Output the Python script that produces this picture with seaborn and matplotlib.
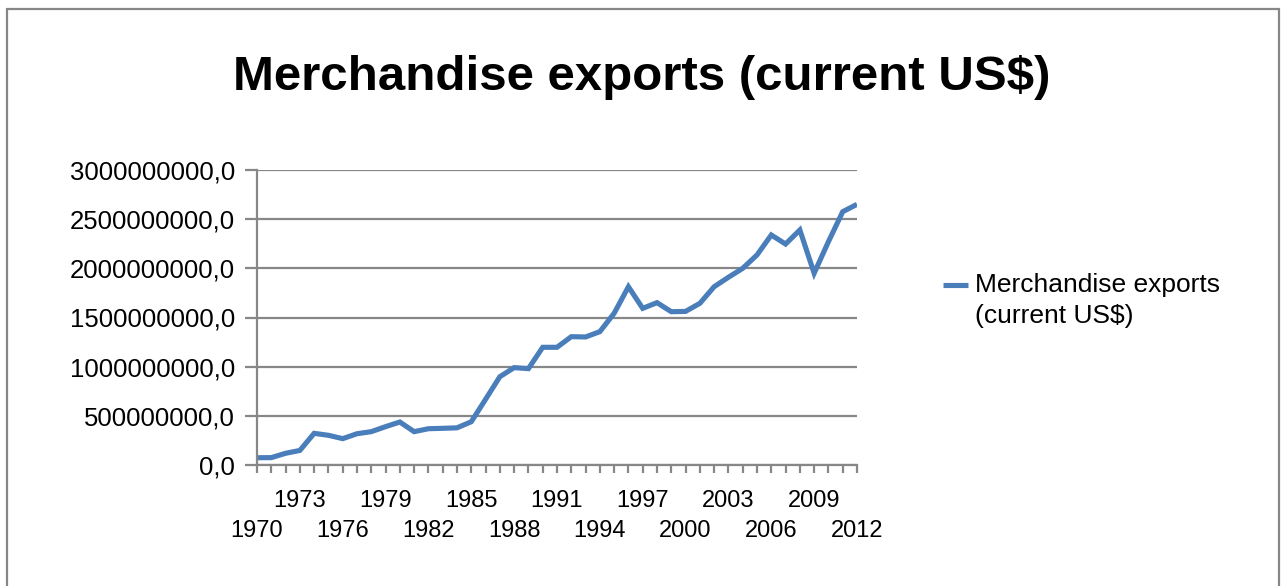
import matplotlib
matplotlib.use("Agg")
import matplotlib.pyplot as plt
from matplotlib.ticker import FuncFormatter, FixedLocator
from matplotlib.lines import Line2D
import seaborn as sns
import pandas as pd

# ---- data ----
years = list(range(1970, 2013))
exports = [
    74e6, 75e6, 119e6, 148e6, 322e6, 302e6, 268e6, 318e6, 339e6, 390e6,
    437e6, 339e6, 369e6, 373e6, 378e6, 440e6, 668e6, 898e6, 990e6, 980e6,
    1197e6, 1197e6, 1305e6, 1302e6, 1356e6, 1543e6, 1813e6, 1593e6, 1651e6, 1559e6,
    1562e6, 1644e6, 1813e6, 1909e6, 2000e6, 2136e6, 2339e6, 2247e6, 2390e6, 1950e6,
    2271e6, 2576e6, 2651e6,
]
legend_label = "Merchandise exports\n(current US$)"
title = "Merchandise exports (current US$)"
y_ticks = [0, 5e8, 1e9, 1.5e9, 2e9, 2.5e9, 3e9]

df = pd.DataFrame({"year": years, "value": exports})

# ---- style ----
sns.set_style("white")
plt.rcParams["font.family"] = ["Liberation Sans", "DejaVu Sans"]
plt.rcParams["text.color"] = "black"
plt.rcParams["xtick.color"] = "black"
plt.rcParams["ytick.color"] = "black"

GRAY = "#878787"
BLUE = "#4a7ebb"

W, H = 1282, 586
fig = plt.figure(figsize=(W / 100, H / 100), dpi=100)
fig.patch.set_facecolor("white")

L, R, T, B = 257, 857, 170, 465
ax = fig.add_axes([L / W, (H - B) / H, (R - L) / W, (B - T) / H])

sns.lineplot(data=df, x="year", y="value", ax=ax, color=BLUE, linewidth=3.7,
             label=legend_label, solid_joinstyle="miter", solid_capstyle="butt")

ax.set_xlim(years[0], years[-1])
ax.set_ylim(y_ticks[0], y_ticks[-1])
ax.set_xlabel("")
ax.set_ylabel("")

ax.yaxis.set_major_locator(FixedLocator(y_ticks))
ax.yaxis.set_major_formatter(FuncFormatter(lambda v, p: f"{v:.1f}".replace(".", ",")))

xlabels = [str(yr) if i % 3 == 0 else "" for i, yr in enumerate(years)]
ax.set_xticks(years)
ax.set_xticklabels(xlabels)

ax.grid(axis="y", color=GRAY, linewidth=1.6)
ax.set_axisbelow(True)
for s in ["top", "right"]:
    ax.spines[s].set_visible(False)
for s in ["left", "bottom"]:
    ax.spines[s].set_color(GRAY)
    ax.spines[s].set_linewidth(1.6)

ax.tick_params(axis="both", which="major", direction="out", color=GRAY, width=1.6,
               labelcolor="black")
ax.tick_params(axis="y", length=9, pad=7, left=True, labelsize=18.5)
ax.tick_params(axis="x", length=6, pad=12, bottom=True, labelsize=17)

# staggered x labels: every other labelled year drops to a second row
for i, tick in enumerate(ax.xaxis.get_major_ticks()):
    if i % 6 == 0:
        tick.set_pad(12 + 21.6)

# title
fig.text(642 / W, 1 - 78 / H, title, ha="center", va="center",
         fontsize=35.5, fontweight="bold", color="black")

# legend
leg = ax.legend(loc="upper left", bbox_to_anchor=(943 / W, 1 - 273 / H),
                bbox_transform=fig.transFigure, frameon=False, fontsize=19,
                handlelength=0.95, handletextpad=0.25, borderpad=0, borderaxespad=0)
for t in leg.get_texts():
    t.set_linespacing(1.35)
    t.set_color("black")
for h in leg.get_lines():
    h.set_linewidth(3.7)
    yd = h.get_ydata()
    h.set_ydata([v + 11 for v in yd])

# outer chart border (no bottom edge visible)
fx0, fx1, fy = 7 / W, 1279 / W, 1 - 9 / H
fig.add_artist(Line2D([fx0, fx0], [0, fy], transform=fig.transFigure, color=GRAY, lw=1.6))
fig.add_artist(Line2D([fx0, fx1], [fy, fy], transform=fig.transFigure, color=GRAY, lw=1.6))
fig.add_artist(Line2D([fx1, fx1], [fy, 0], transform=fig.transFigure, color=GRAY, lw=1.6))

fig.savefig("out.png", dpi=100, facecolor="white")
